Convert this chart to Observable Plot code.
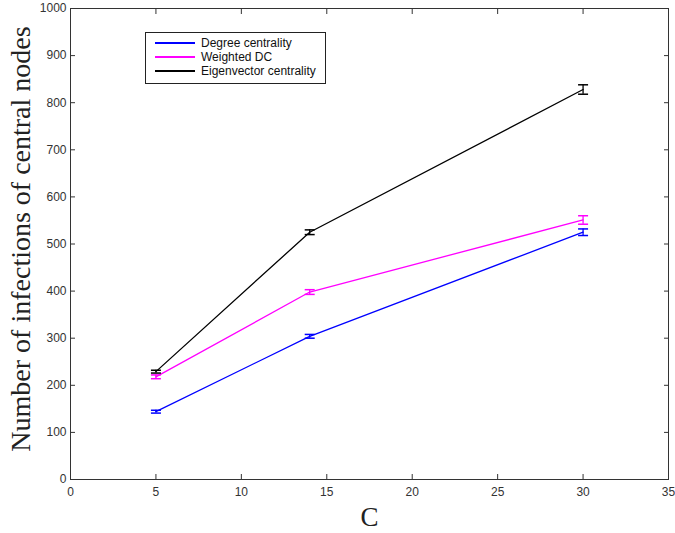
<!DOCTYPE html>
<html>
<head>
<meta charset="utf-8">
<script src="https://cdn.jsdelivr.net/npm/d3@7"></script>
<script src="https://cdn.jsdelivr.net/npm/@observablehq/plot@0.6"></script>
<style>
  body { margin: 0; background: #fff; }
  #wrap { position: relative; width: 675px; height: 533px; }
  #legend {
    position: absolute; left: 145px; top: 32px; width: 181px; height: 52px;
    border: 1px solid #222; background: #fff; box-sizing: border-box;
    font-family: "Liberation Sans", Arial, sans-serif; font-size: 12px; color: #111;
    padding-top: 3px;
  }
  .row { display: flex; align-items: center; height: 14px; }
  .sw { display: inline-block; width: 40px; height: 1.4px; margin-left: 9px; margin-right: 6px; }
</style>
</head>
<body>
<div id="wrap"></div>
<script>
const cValues = [5, 14, 30];
const seriesNames = ["Degree centrality", "Weighted DC", "Eigenvector centrality"];
const seriesColors = ["#0000ff", "#ff00ff", "#000000"];
const degreeValues = [144, 304, 525];
const degreeErrors = [3, 4, 7];
const weightedValues = [218, 398, 551];
const weightedErrors = [4, 5, 9];
const eigenValues = [229, 525, 828];
const eigenErrors = [3, 5, 10];
const xTicks = [0, 5, 10, 15, 20, 25, 30, 35];
const yTicks = [0, 100, 200, 300, 400, 500, 600, 700, 800, 900, 1000];
const xLabel = "C";
const yLabel = "Number of infections of central nodes";

const allValues = [degreeValues, weightedValues, eigenValues];
const allErrors = [degreeErrors, weightedErrors, eigenErrors];
const data = [];
seriesNames.forEach((s, i) => {
  cValues.forEach((c, j) => {
    data.push({series: s, c, v: allValues[i][j], e: allErrors[i][j]});
  });
});

const cap = { draw(ctx) { ctx.moveTo(-5, 0); ctx.lineTo(5, 0); } };
const font = "Liberation Sans, Arial, sans-serif";
const serif = "Liberation Serif, Times New Roman, serif";
const tickColor = "#333";

const chart = Plot.plot({
  width: 675,
  height: 533,
  marginLeft: 70,
  marginRight: 7,
  marginTop: 8,
  marginBottom: 54,
  style: { fontFamily: font, fontSize: "11px", color: "#333", background: "#fff" },
  x: { domain: [0, 35] },
  y: { domain: [0, 1000] },
  color: { domain: seriesNames, range: seriesColors },
  marks: [
    Plot.frame({ stroke: "#333", strokeWidth: 1 }),
    Plot.axisX(xTicks, { anchor: "bottom", tickSize: -5, tickFormat: () => "", label: null, stroke: tickColor }),
    Plot.axisX(xTicks, { anchor: "top", tickSize: -5, tickFormat: () => "", label: null, stroke: tickColor }),
    Plot.axisY(yTicks, { anchor: "left", tickSize: -5, tickFormat: () => "", label: null, stroke: tickColor }),
    Plot.axisY(yTicks, { anchor: "right", tickSize: -5, tickFormat: () => "", label: null, stroke: tickColor }),
    Plot.axisX(xTicks, { anchor: "bottom", tickSize: 0, tickPadding: 8, label: null, fill: "#333", fontSize: 12, tickFormat: d3.format("d") }),
    Plot.axisY(yTicks, { anchor: "left", tickSize: 0, tickPadding: 4, label: null, fill: "#333", fontSize: 12, tickFormat: d3.format("d") }),
    Plot.line(data, { x: "c", y: "v", z: "series", stroke: "series", strokeWidth: 1.3 }),
    Plot.ruleX(data, { x: "c", y1: d => d.v - d.e, y2: d => d.v + d.e, stroke: "series", strokeWidth: 1.3 }),
    Plot.dot(data, { x: "c", y: d => d.v - d.e, symbol: cap, stroke: "series", strokeWidth: 1.5, r: 5 }),
    Plot.dot(data, { x: "c", y: d => d.v + d.e, symbol: cap, stroke: "series", strokeWidth: 1.5, r: 5 }),
    Plot.text([yLabel], { frameAnchor: "left", textAnchor: "middle", rotate: -90, dx: -49, dy: -5, fontSize: 28, fontFamily: serif, fill: "#222" }),
    Plot.text([xLabel], { frameAnchor: "bottom", textAnchor: "middle", dy: 46, fontSize: 27, fontFamily: serif, fill: "#222" })
  ]
});

const wrap = document.getElementById("wrap");
wrap.appendChild(chart);

const legend = document.createElement("div");
legend.id = "legend";
seriesNames.forEach((s, i) => {
  const row = document.createElement("div");
  row.className = "row";
  const sw = document.createElement("span");
  sw.className = "sw";
  sw.style.background = seriesColors[i];
  const t = document.createElement("span");
  t.textContent = s;
  row.appendChild(sw);
  row.appendChild(t);
  legend.appendChild(row);
});
wrap.appendChild(legend);
</script>
</body>
</html>
